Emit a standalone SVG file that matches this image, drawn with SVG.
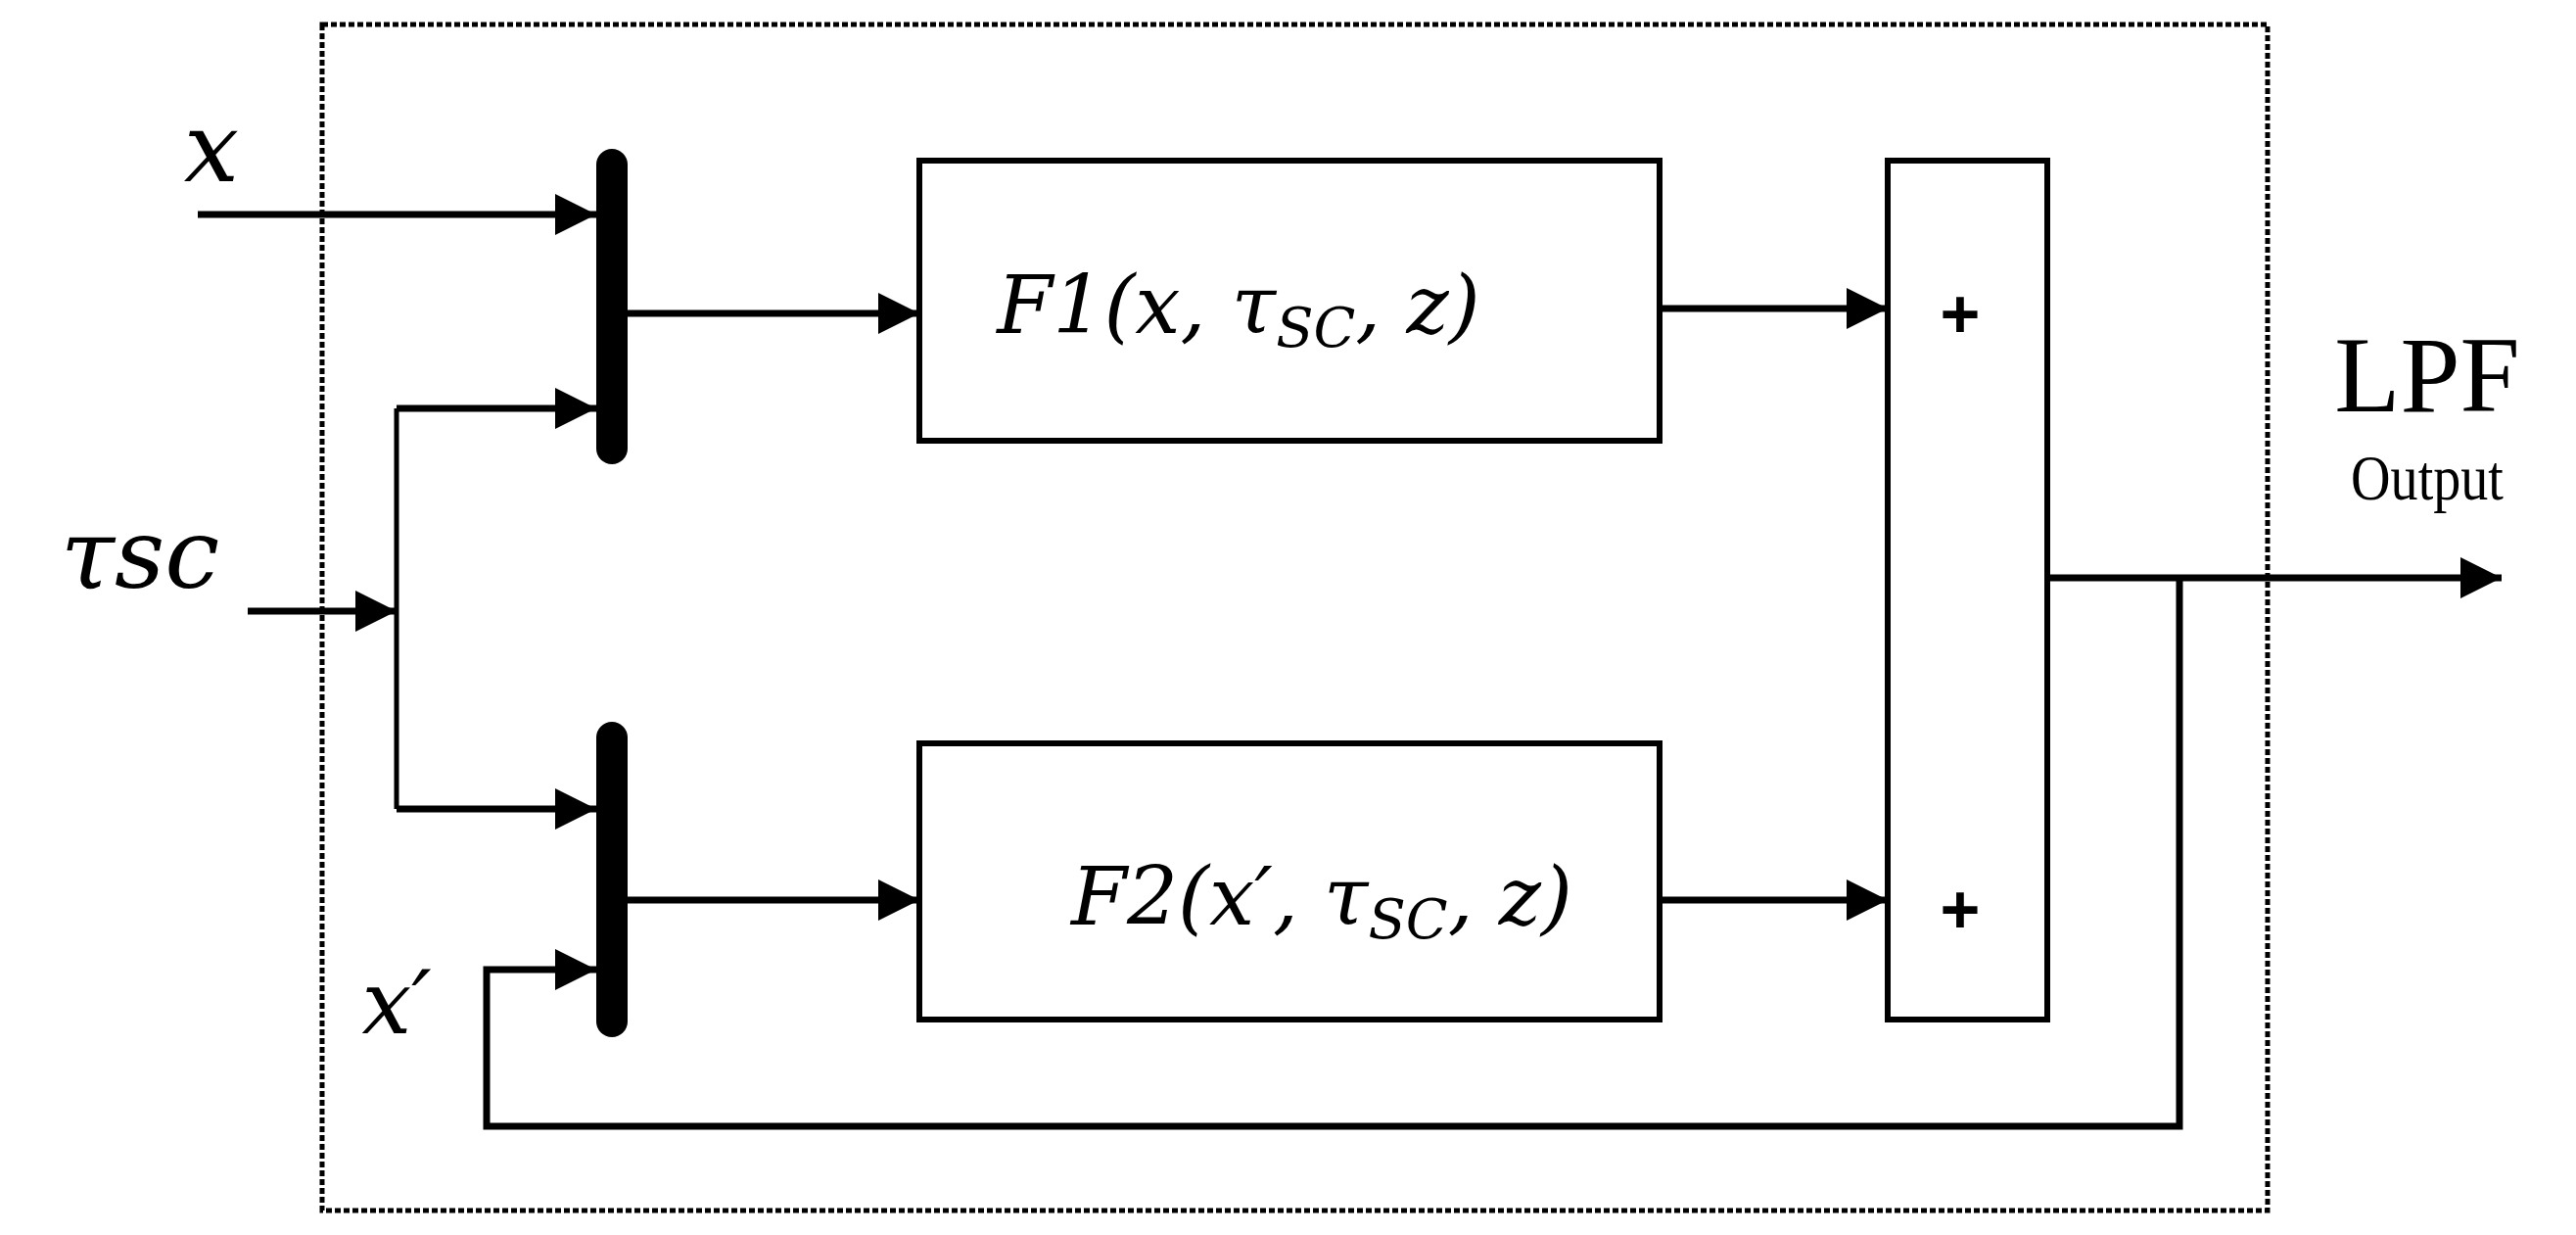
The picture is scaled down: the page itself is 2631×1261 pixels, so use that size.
<svg xmlns="http://www.w3.org/2000/svg" width="2631" height="1261" viewBox="0 0 2631 1261">
<style>
.ln{stroke:#000;stroke-width:7;fill:none}
.thin{stroke:#000;stroke-width:5;fill:none}
.box{stroke:#000;stroke-width:6;fill:#fff}
.m{font-family:"DejaVu Serif","Liberation Serif",serif;font-style:italic;fill:#000}
.r{font-family:"Liberation Serif",serif;fill:#000}
.p{font-family:"Liberation Sans",sans-serif;font-weight:bold;fill:#000}
</style>
<defs>
<marker id="ah" markerWidth="10" markerHeight="10" refX="9" refY="5" orient="auto" markerUnits="userSpaceOnUse" viewBox="0 0 10 10"><path d="M0,0 L10,5 L0,10 z" fill="#000"/></marker>
<marker id="a" viewBox="0 0 10 10" refX="10" refY="5" markerWidth="42" markerHeight="42" markerUnits="userSpaceOnUse" orient="auto"><path d="M0,0 L10,5 L0,10 z" fill="#000"/></marker>
</defs>
<rect x="329" y="25" width="1987" height="1211" fill="none" stroke="#000" stroke-width="5" stroke-dasharray="6,3"/>
<g id="bar1"><rect x="609" y="152" width="32" height="322" rx="16" fill="#000"/></g>
<g id="bar2"><rect x="609" y="737" width="32" height="322" rx="16" fill="#000"/></g>
<g id="F1"><rect class="box" x="939" y="164" width="756" height="286"/><text class="m" x="1265" y="340" font-size="82" text-anchor="middle">F1(x, τ<tspan font-size="56" dy="14">SC</tspan><tspan dy="-14">, z)</tspan></text></g>
<g id="F2"><rect class="box" x="939" y="759" width="756" height="282"/><text class="m" x="1350" y="944" font-size="82" text-anchor="middle">F2(x′, τ<tspan font-size="56" dy="14">SC</tspan><tspan dy="-14">, z)</tspan></text></g>
<g id="sum"><rect class="box" x="1928" y="164" width="163" height="877"/><text class="p" x="2002" y="345" font-size="70" text-anchor="middle">+</text><text class="p" x="2002" y="953" font-size="70" text-anchor="middle">+</text></g>
<g id="labels">
<text class="m" x="216" y="185" font-size="100" text-anchor="middle">x</text>
<text class="m" x="143" y="600" font-size="100" text-anchor="middle">τsc</text>
<text class="m" x="405" y="1055" font-size="90" text-anchor="middle">x′</text>
<text class="r" x="2479" y="420" font-size="110" text-anchor="middle">LPF</text>
<text class="r" x="2479" y="510" font-size="66" text-anchor="middle" transform="translate(2479 0) scale(0.85 1) translate(-2479 0)">Output</text>
</g>
<g id="connectors">
<line class="ln" x1="202" y1="219" x2="609" y2="219" marker-end="url(#a)"/>
<line class="ln" x1="253" y1="624" x2="405" y2="624" marker-end="url(#a)"/>
<polyline class="thin" points="405,624 405,417"/>
<polyline class="thin" points="405,624 405,826"/>
<line class="ln" x1="405" y1="417" x2="609" y2="417" marker-end="url(#a)"/>
<line class="ln" x1="405" y1="826" x2="609" y2="826" marker-end="url(#a)"/>
<polyline class="ln" points="2226,590 2226,1150 497,1150 497,990 609,990" marker-end="url(#a)"/>
<line class="ln" x1="641" y1="320" x2="939" y2="320" marker-end="url(#a)"/>
<line class="ln" x1="641" y1="919" x2="939" y2="919" marker-end="url(#a)"/>
<line class="ln" x1="1695" y1="315" x2="1928" y2="315" marker-end="url(#a)"/>
<line class="ln" x1="1695" y1="919" x2="1928" y2="919" marker-end="url(#a)"/>
<line class="ln" x1="2091" y1="590" x2="2555" y2="590" marker-end="url(#a)"/>
</g>
</svg>
